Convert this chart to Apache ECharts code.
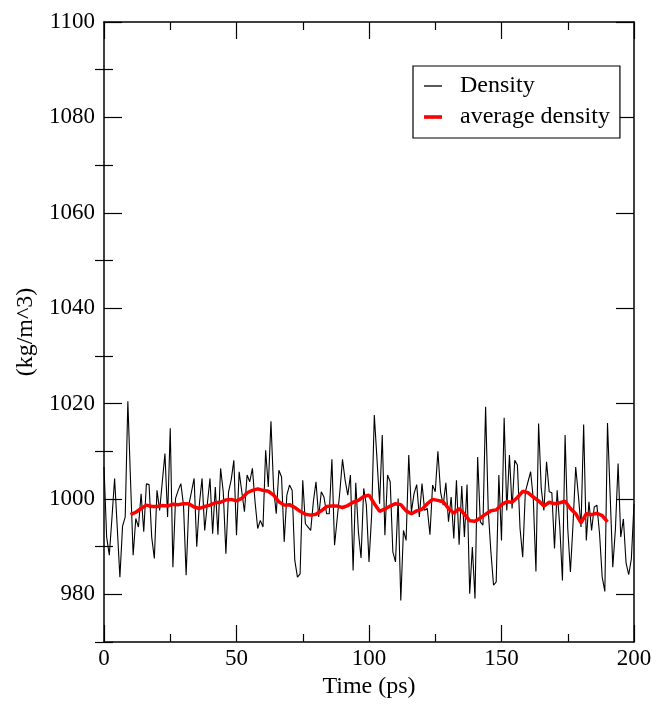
<!DOCTYPE html>
<html>
<head>
<meta charset="utf-8">
<script src="https://cdn.jsdelivr.net/npm/echarts@6/dist/echarts.min.js"></script>
<style>html,body{margin:0;padding:0;background:#fff}#c{width:658px;height:704px}</style>
</head>
<body>
<div id="c"></div>
<script>
// time (ps) for the density series
var timePs = [];
for (var i = 0; i <= 200; i++) timePs.push(i);
var density = [
1006.7,992,988.2,996,1004.3,994,983.6,994.3,996.2,1020.5,
1004,988.2,995.9,994.1,1001.1,993.1,1003.2,1003,992,987.5,
1001.8,997.6,1003.6,1009.5,996.2,1014.8,985.7,1000.1,1001.8,1003.2,
998.7,984,998.7,1001.5,1004.3,990,999,1004.3,993.4,999,
1004.3,992.7,1002.5,992.5,1006.4,1001.5,988.5,1001.5,1004,1008.1,
992.4,1005.7,1001.5,997.3,1005,1003.6,1006.4,999.4,993.8,995.5,
994.1,1010.2,1002.5,1016.3,1002.2,996.9,1006,1004.6,991,1000.8,
1002.9,1001.8,987.1,983.6,984.3,1003.9,994.8,994.1,993.4,999.4,
1003.6,996.2,1001.5,1000.4,996.9,996.9,1008.3,990.3,995.9,1001.5,
1008.3,1003.9,1000.8,1005,985,1003.4,993.1,987.6,1002.2,998.7,
986.8,996.6,1017.6,1008.5,999,1013.4,992.4,1005,1003.6,988.9,
986.8,1000.1,978.7,993.4,991.3,1009.2,997.3,1001.1,1003,996.2,
1003.2,997.6,998,992.5,1002.9,1001.5,1010,1001.5,998.7,1003.4,
995.2,1000.4,991.7,1003.9,990.4,1002.7,992,1003,980.1,989.9,
979.1,1008.8,995.2,994.5,1019.3,997.6,988.9,981.9,982.6,1005,
991.3,1017,997.6,1009.2,998,1008.1,1007.1,993.8,987.8,1001.5,
1003.6,1005.7,1000,984.8,1015.8,1002.2,997.6,1007.8,1001.5,1001.3,
989.6,1001.8,994.1,982.9,1013.4,993.8,984.7,994.8,1006.7,1000.8,
994.1,1015.6,991.3,999.4,993.4,998.3,998.7,992.7,983.6,980.6,
1015.9,1000.8,985.7,993.8,1007.4,992,995.8,986.6,984.1,987.4,
999
];
// average density, read every 2 ps from 10 to 190
var avgTime = [];
for (var j = 10; j <= 190; j += 2) avgTime.push(j);
var avgDensity = [
996.7,997.2,998.0,998.7,998.4,998.4,998.6,998.5,998.9,998.8,
999.0,999.0,998.3,998.0,998.4,998.7,999.2,999.3,999.8,999.9,
999.6,1000.1,1001.3,1001.8,1002.1,1001.8,1001.6,1000.8,999.4,998.7,
998.8,998.2,997.4,996.8,996.6,996.8,997.5,998.4,998.5,998.5,
998.2,998.6,999.3,999.7,1000.5,1000.8,999.0,997.4,997.9,998.5,
999.0,998.8,997.5,996.9,997.5,997.8,999.0,999.9,999.7,999.4,
998.0,997.0,998.0,996.8,995.4,995.3,996.0,996.8,997.5,997.7,
998.8,999.4,999.3,1000.3,1001.6,1001.3,1000.4,999.6,998.5,999.3,
999.0,999.2,999.5,998.0,996.9,995.0,996.9,996.7,997.0,996.5,
995.2
];
var yMajorTicks = [980, 1000, 1020, 1040, 1060, 1080, 1100];
var yMinorTicks = [970, 990, 1010, 1030, 1050, 1070, 1090];
var xMajorTicks = [0, 50, 100, 150, 200];

var seriesNames = ['Density', 'average density'];

var FONT = 'Liberation Serif';
var axisLine = { show: true, onZero: false, lineStyle: { color: '#000', width: 1.5 } };

function yAx(pos, ticks, len, labels, line) {
  return {
    type: 'value', position: pos, min: 970, max: 1100,
    axisLine: line ? axisLine : { show: false },
    splitLine: { show: false },
    axisTick: { show: true, inside: true, length: len, customValues: ticks, lineStyle: { color: '#000', width: 1.2 } },
    axisLabel: labels ? { show: true, customValues: yMajorTicks, fontFamily: FONT, fontSize: 23, color: '#000', margin: 9,
      formatter: function (v) { return String(v); } } : { show: false }
  };
}

var chart = echarts.init(document.getElementById('c'), null, { renderer: 'canvas' });
var yAxes = [
  yAx('left', yMajorTicks, 18, true, true),
  yAx('left', yMinorTicks, 9, false, false),
  yAx('right', yMajorTicks, 18, false, true),
  yAx('right', yMinorTicks, 9, false, false)
];
yAxes[0].name = '(kg/m^3)';
yAxes[0].nameLocation = 'middle';
yAxes[0].nameRotate = 90;
yAxes[0].nameGap = 52;
yAxes[0].nameTextStyle = { fontFamily: FONT, fontSize: 24, color: '#000' };

function xAx(pos, labels) {
  var a = {
    type: 'value', position: pos, min: 0, max: 200, interval: 50,
    axisLine: axisLine, splitLine: { show: false },
    axisTick: { show: true, inside: true, length: 17, lineStyle: { color: '#000', width: 1.2 } },
    minorTick: { show: true, splitNumber: 2, length: 8, lineStyle: { color: '#000', width: 1.2 } },
    axisLabel: labels ? { show: true, fontFamily: FONT, fontSize: 23, color: '#000', margin: 5,
      formatter: function (v) { return xMajorTicks.indexOf(v) >= 0 ? String(v) : ''; } } : { show: false }
  };
  if (labels) {
    a.name = 'Time (ps)'; a.nameLocation = 'middle'; a.nameGap = 33;
    a.nameTextStyle = { fontFamily: FONT, fontSize: 24, color: '#000' };
  }
  return a;
}

chart.setOption({
  animation: false,
  backgroundColor: '#fff',
  grid: { left: 104, top: 22, right: 24, bottom: 62, containLabel: false, outerBoundsMode: 'none' },
  xAxis: [xAx('bottom', true), xAx('top', false)],
  yAxis: yAxes,
  legend: {
    orient: 'vertical', left: 413, top: 66,
    data: [
      { name: seriesNames[0], icon: 'path://M0,0H18V1.3H0Z' },
      { name: seriesNames[1], icon: 'path://M0,0H18V3.6H0Z' }
    ],
    itemWidth: 18, itemHeight: 14, itemGap: 7,
    padding: [8, 10, 9, 11],
    borderColor: '#000', borderWidth: 1.2, backgroundColor: '#fff',
    textStyle: { fontFamily: FONT, fontSize: 24, color: '#000', lineHeight: 24, padding: [0, 0, 0, 13] }
  },
  series: [
    {
      name: seriesNames[0], type: 'line', xAxisIndex: 0, yAxisIndex: 0,
      data: timePs.map(function (t, k) { return [t, density[k]]; }),
      symbol: 'none', lineStyle: { color: '#000', width: 1.1 }, itemStyle: { color: '#000' }, z: 2
    },
    {
      name: seriesNames[1], type: 'line', xAxisIndex: 0, yAxisIndex: 0,
      data: avgTime.map(function (t, k) { return [t, avgDensity[k]]; }),
      symbol: 'none', lineStyle: { color: '#ff0000', width: 3.5 }, itemStyle: { color: '#ff0000' }, z: 3
    }
  ]
});
</script>
</body>
</html>
